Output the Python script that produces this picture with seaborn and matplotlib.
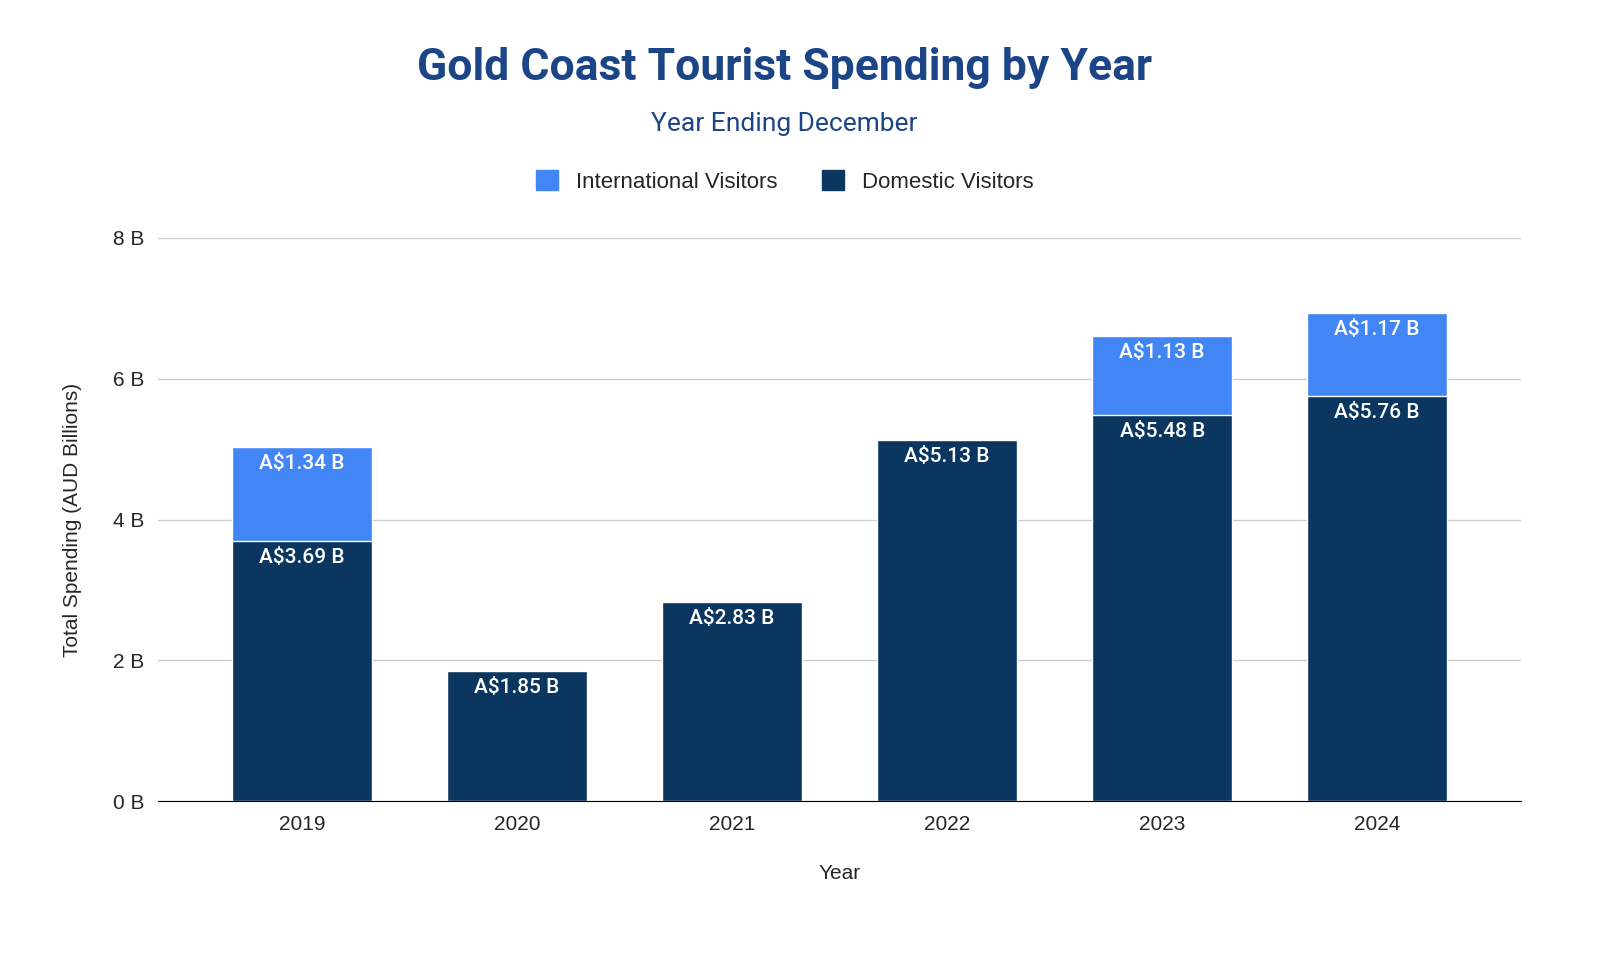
import matplotlib
matplotlib.use("Agg")
import matplotlib.pyplot as plt
import seaborn as sns
import pandas as pd
from matplotlib.patches import Patch

years = ["2019", "2020", "2021", "2022", "2023", "2024"]
domestic = [3.69, 1.85, 2.83, 5.13, 5.48, 5.76]
international = [1.34, 0, 0, 0, 1.13, 1.17]

c_intl = "#4285F4"
c_dom = "#0B365F"

sns.set_style("white")
plt.rcParams["font.family"] = ["Liberation Sans", "DejaVu Sans"]

df = pd.DataFrame({"Year": years, "Domestic": domestic, "International": international})
df["Total"] = df["Domestic"] + df["International"]

fig = plt.figure(figsize=(15.98, 9.6), dpi=100)
ax = fig.add_axes([0.0989, 0.1656, 0.8531, 0.5865])

sns.barplot(data=df, x="Year", y="Total", color=c_intl, width=0.65, saturation=1, ax=ax)
sns.barplot(data=df, x="Year", y="Domestic", color=c_dom, width=0.65, saturation=1, ax=ax)

for i, row in df.iterrows():
    ax.text(i, row["Domestic"] - 0.1, f"A\\${row['Domestic']:.2f} B", ha="center", va="top",
            color="white", fontsize=15, family="Roboto", fontweight="medium")
    if row["International"] > 0:
        ax.text(i, row["Total"] - 0.1, f"A\\${row['International']:.2f} B", ha="center", va="top",
                color="white", fontsize=15, family="Roboto", fontweight="medium")

ax.set_ylim(0, 8)
ax.set_xlim(-0.67, 5.67)
ax.set_yticks([0, 2, 4, 6, 8])
ax.set_yticklabels(["0 B", "2 B", "4 B", "6 B", "8 B"])
ax.yaxis.grid(True, color="#cccccc", linewidth=1)
ax.set_axisbelow(True)
ax.tick_params(axis="both", length=0, labelsize=15, pad=10)
for s in ["top", "right", "left"]:
    ax.spines[s].set_visible(False)
ax.spines["bottom"].set_color("black")
ax.set_xlabel("Year", fontsize=15, labelpad=22)
ax.set_ylabel("Total Spending (AUD Billions)", fontsize=15, labelpad=22)

fig.text(0.491, 0.929, "Gold Coast Tourist Spending by Year", ha="center", va="center",
         fontsize=32, fontweight="bold", color="#1C4587", family="Roboto")
fig.text(0.491, 0.871, "Year Ending December", ha="center", va="center",
         fontsize=19, color="#1C4587", family="Roboto")

handles = [Patch(color=c_intl, label="International Visitors"),
           Patch(color=c_dom, label="Domestic Visitors")]
fig.legend(handles=handles, loc="center", bbox_to_anchor=(0.491, 0.811), ncol=2,
           frameon=False, fontsize=16, handlelength=1, handleheight=1, columnspacing=2)

fig.savefig("out.png", dpi=100)
